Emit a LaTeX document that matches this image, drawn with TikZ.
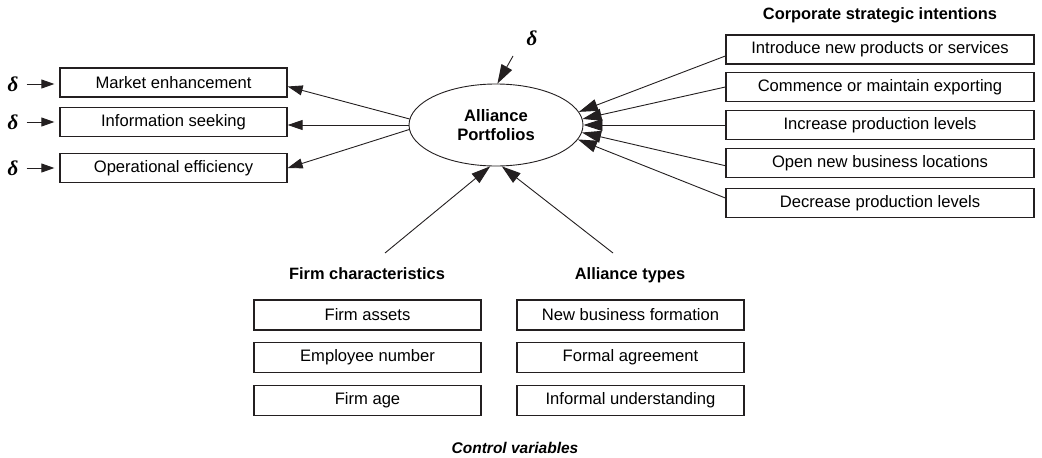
\documentclass[tikz,border=0pt]{standalone}
\usepackage{fontspec}
\setmainfont{Liberation Sans}
\newfontfamily\deltafont{Liberation Serif}
\usetikzlibrary{arrows.meta,shapes.geometric}
\definecolor{ink}{HTML}{231F20}
\begin{document}
\begin{tikzpicture}[x=1pt,y=-1pt,
  box/.style={draw=ink, line width=1.3pt, minimum height=29pt, inner sep=0pt,
    font=\fontsize{16.6}{18}\selectfont},
  lbox/.style={box, minimum width=227pt},
  bbox/.style={box, minimum width=227pt, minimum height=30pt},
  rbox/.style={box, minimum width=308pt},
  head/.style={font=\fontsize{16.4}{18}\selectfont\bfseries, inner sep=0pt, anchor=base},
  dl/.style={font=\fontsize{21}{22}\deltafont\bfseries\itshape\selectfont, inner sep=0pt},
  arr/.style={draw=ink, line width=0.9pt, -{Triangle[length=19pt,width=12pt]}},
  marr/.style={draw=ink, line width=0.9pt, -{Triangle[length=15pt,width=10pt]}},
  sarr/.style={draw=ink, line width=0.9pt, -{Triangle[length=13pt,width=9pt]}},
]
\useasboundingbox (0,0) rectangle (1042,458);

% central ellipse
\node[draw=ink, ellipse, line width=0.9pt, minimum width=174pt, minimum height=82pt,
  inner sep=0pt, align=center, font=\fontsize{16.6}{18.5}\selectfont\bfseries]
  (ell) at (496,125) {Alliance\\Portfolios};

% left outcome boxes
\node[lbox] (m1) at (173.5,82.5) {Market enhancement};
\node[lbox] (m2) at (173.5,122) {Information seeking};
\node[lbox] (m3) at (173.5,168) {Operational efficiency};

\node[dl] (d1) at (13,84) {δ};
\node[dl] (d2) at (13,122) {δ};
\node[dl] (d3) at (13,168) {δ};
\node[dl] (d0) at (532,38) {δ};
\coordinate (d0s) at (513,56);

% right boxes
\node[head] (hc) at (880,19.5) {Corporate strategic intentions};
\node[rbox] (r1) at (880,49.5) {Introduce new products or services};
\node[rbox] (r2) at (880,87) {Commence or maintain exporting};
\node[rbox] (r3) at (880,125) {Increase production levels};
\node[rbox] (r4) at (880,163) {Open new business locations};
\node[rbox] (r5) at (880,203) {Decrease production levels};

% bottom boxes
\node[head] (hf) at (367,279) {Firm characteristics};
\node[head] (ha) at (630,279) {Alliance types};
\node[bbox] (f1) at (367.5,315) {Firm assets};
\node[bbox] (f2) at (367.5,357.5) {Employee number};
\node[bbox] (f3) at (367.5,400.5) {Firm age};
\node[bbox] (a1) at (630.5,315) {New business formation};
\node[bbox] (a2) at (630.5,357.5) {Formal agreement};
\node[bbox] (a3) at (630.5,400.5) {Informal understanding};
\coordinate (fc) at (385,253);
\coordinate (ac) at (613,253);

\node[inner sep=0pt, anchor=base, font=\fontsize{15.5}{17}\selectfont\bfseries\itshape]
  (cv) at (515,453) {Control variables};

% delta arrows
\draw[sarr, shorten <=8pt, shorten >=5pt] (d1) -- ([yshift=-1.5pt]m1.west);
\draw[sarr, shorten <=8pt, shorten >=5pt] (d2) -- (m2.west);
\draw[sarr, shorten <=8pt, shorten >=5pt] (d3) -- (m3.west);
\draw[arr] (d0s) -- (ell.88);

% ellipse to outcomes
\draw[marr] (ell.176.7) -- ([yshift=-4pt]m1.east);
\draw[marr] (ell.west) -- ([yshift=-3pt]m2.east);
\draw[marr] (ell.183.5) -- (m3.east);

% strategic intentions to ellipse
\draw[arr] ([yshift=-6.5pt]r1.west) -- (ell.9);
\draw[arr] (r2.west) -- (ell.4.7);
\draw[arr] (r3.west) -- (ell.east);
\draw[arr] ([yshift=-2.7pt]r4.west) -- (ell.-5.3);
\draw[arr] ([yshift=5pt]r5.west) -- (ell.-10);

% control variables to ellipse
\draw[arr] (fc) -- (ell.-98);
\draw[arr] (ac) -- (ell.-82);
\end{tikzpicture}
\end{document}
